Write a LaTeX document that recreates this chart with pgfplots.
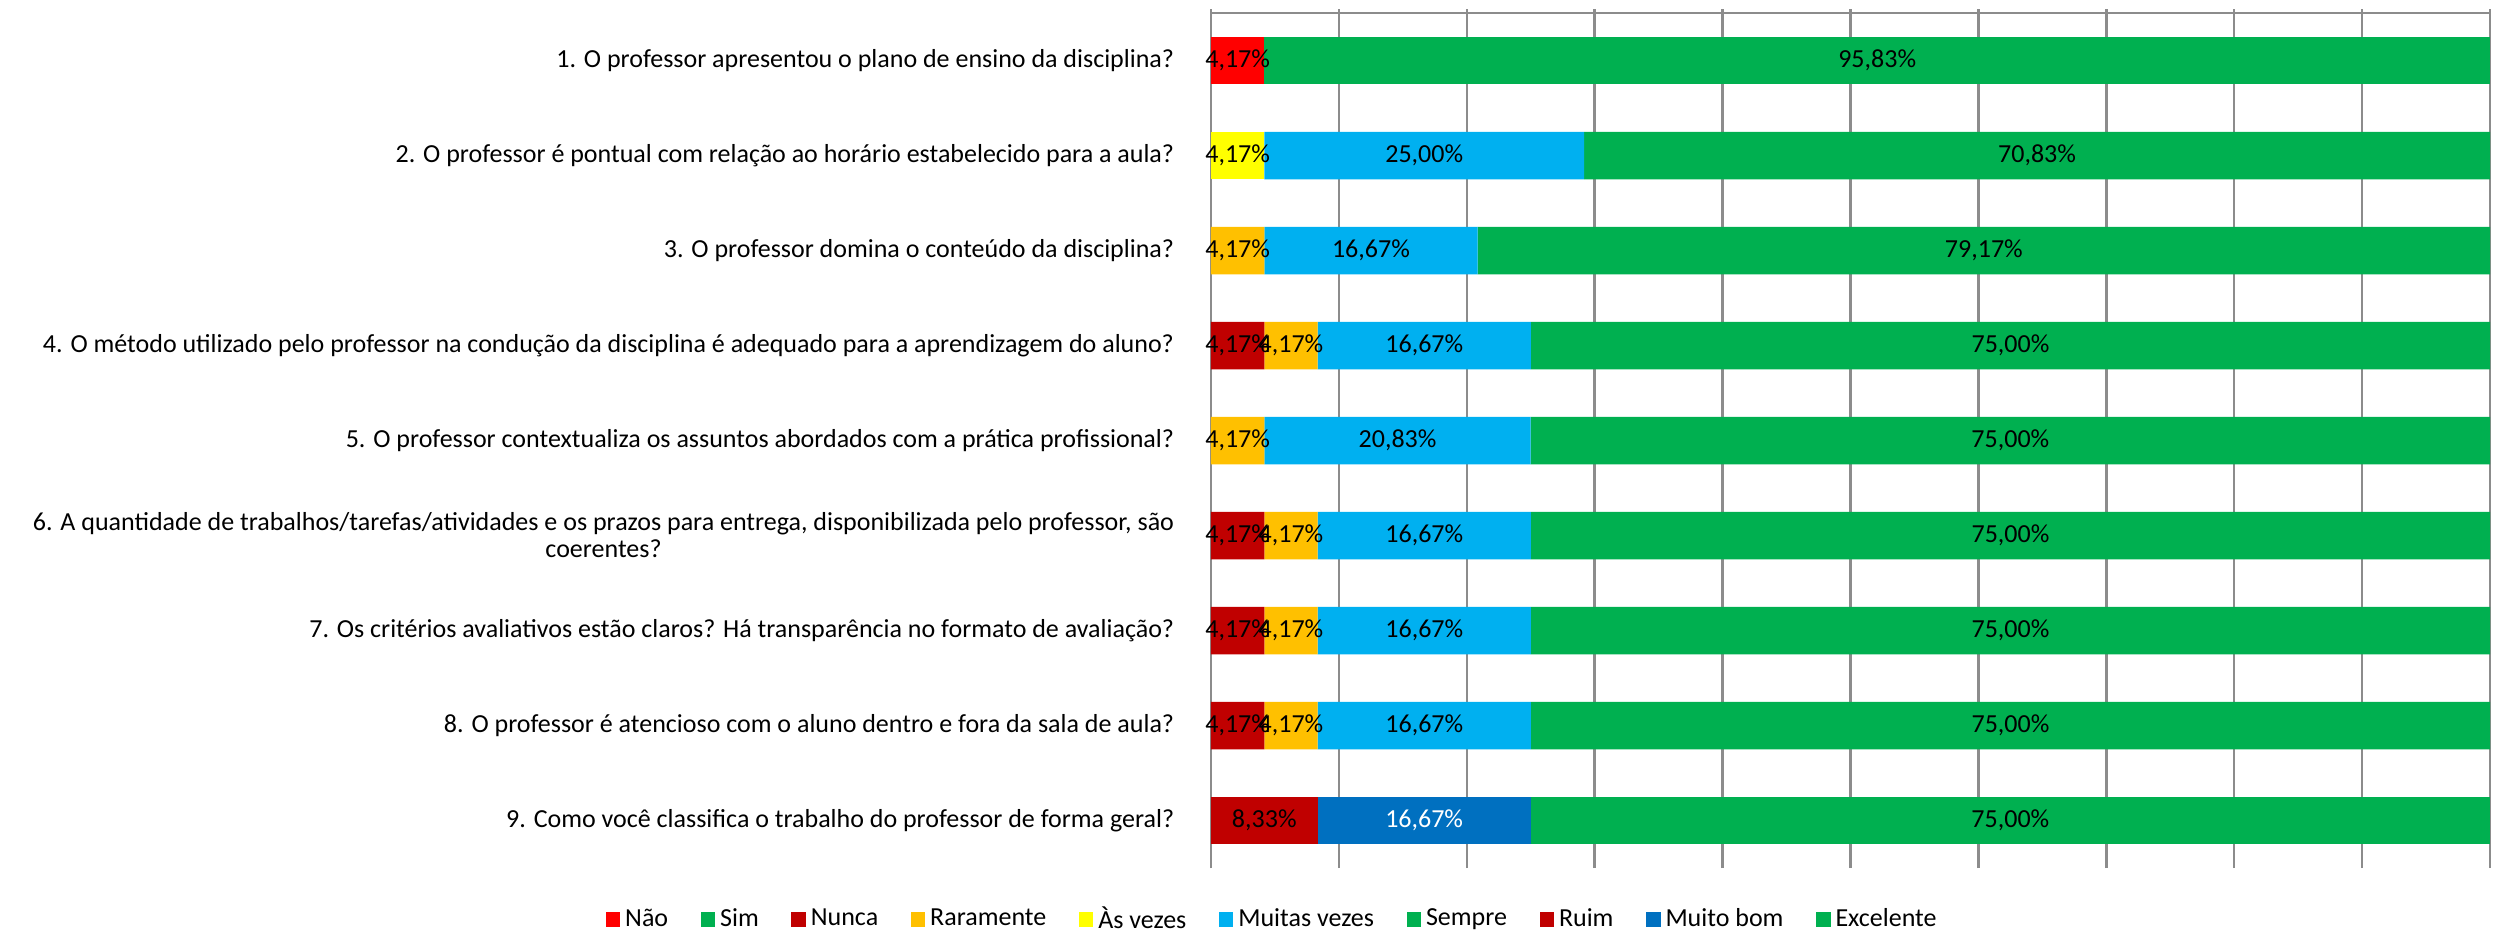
\documentclass[border=0pt]{standalone}
\usepackage{pgfplots}
\pgfplotsset{compat=1.18}
\usepackage{pgfplotstable}
\usepackage{fontspec}
\setmainfont{Carlito}
\definecolor{cNao}{HTML}{FF0000}
\definecolor{cGreen}{HTML}{00B050}
\definecolor{cDkRed}{HTML}{C00000}
\definecolor{cOrange}{HTML}{FFC000}
\definecolor{cYellow}{HTML}{FFFF00}
\definecolor{cCyan}{HTML}{00B0F0}
\definecolor{cBlue}{HTML}{0070C0}
\definecolor{cGrid}{HTML}{8C8C8C}
\newcommand{\lblfont}{\fontsize{10.4pt}{10.8pt}\selectfont}
\pgfplotstableread{
q nao sim nunca rara asvezes muitas sempre ruim muitobom excelente
9 4.17 95.83 0 0 0 0 0 0 0 0
8 0 0 0 0 4.17 25.00 70.83 0 0 0
7 0 0 0 4.17 0 16.67 79.17 0 0 0
6 0 0 4.17 4.17 0 16.67 75.00 0 0 0
5 0 0 0 4.17 0 20.83 75.00 0 0 0
4 0 0 4.17 4.17 0 16.67 75.00 0 0 0
3 0 0 4.17 4.17 0 16.67 75.00 0 0 0
2 0 0 4.17 4.17 0 16.67 75.00 0 0 0
1 0 0 0 0 0 0 0 8.33 16.67 75.00
}\data
\pgfplotsset{
  lab/.style 2 args={
    only marks, mark=none,
    visualization depends on={\thisrow{#1}\as\rawx},
    nodes near coords={\ifdim\rawx pt>0.01pt\pgfmathprintnumber[fixed,fixed zerofill,precision=2,use comma,assume math mode=true]{\rawx}\%\fi},
    every node near coord/.style={anchor=center, font=\lblfont, text=#2, inner sep=0pt},
  },
  frame/.style={
    scale only axis,
    width=511.6pt, height=342pt,
    xmin=0, xmax=100,
    ymin=0.5, ymax=9.5,
    enlargelimits=false,
  }
}
\begin{document}
\begin{tikzpicture}
\begin{axis}[
  frame,
  xbar stacked,
  bar width=19pt,
  axis x line*=top,
  axis y line*=left,
  axis line style={-, draw=cGrid, line width=1pt},
  xtick={0,10,...,100},
  xticklabels={},
  xmajorgrids,
  grid style={draw=cGrid, line width=1pt},
  ytick={1,...,9},
  yticklabels={
    {9. Como você classifica o trabalho do professor de forma geral?},
    {8. O professor é atencioso com o aluno dentro e fora da sala de aula?},
    {7. Os critérios avaliativos estão claros? Há transparência no formato de avaliação?},
    {6. A quantidade de trabalhos/tarefas/atividades e os prazos para entrega, disponibilizada pelo professor, são\\coerentes?},
    {5. O professor contextualiza os assuntos abordados com a prática profissional?},
    {4. O método utilizado pelo professor na condução da disciplina é adequado para a aprendizagem do aluno?},
    {3. O professor domina o conteúdo da disciplina?},
    {2. O professor é pontual com relação ao horário estabelecido para a aula?},
    {1. O professor apresentou o plano de ensino da disciplina?}
  },
  minor ytick={0.5,1.5,...,9.5},
  tick align=outside,
  major tick length=1.5pt,
  ytick style={draw=none},
  minor tick length=2pt,
  every minor tick/.style={draw=cGrid, line width=1pt},
  xtick style={draw=cGrid, line width=1pt},
  yticklabel style={font=\lblfont, align=center, xshift=-9.7pt, text=black},
  legend columns=10,
  legend style={at={(0.049,-0.06)}, anchor=center, draw=none, fill=none, font=\lblfont,
    /tikz/every even column/.append style={column sep=11pt},
    /tikz/every odd column/.append style={column sep=0pt}},
  legend image code/.code={\fill[#1] (0pt,-2.9pt) rectangle (5.8pt,2.9pt);},
]
\addplot[fill=cNao, draw=none] table[x=nao, y=q] {\data};
\addplot[fill=cGreen, draw=none] table[x=sim, y=q] {\data};
\addplot[fill=cDkRed, draw=none] table[x=nunca, y=q] {\data};
\addplot[fill=cOrange, draw=none] table[x=rara, y=q] {\data};
\addplot[fill=cYellow, draw=none] table[x=asvezes, y=q] {\data};
\addplot[fill=cCyan, draw=none] table[x=muitas, y=q] {\data};
\addplot[fill=cGreen, draw=none] table[x=sempre, y=q] {\data};
\addplot[fill=cDkRed, draw=none] table[x=ruim, y=q] {\data};
\addplot[fill=cBlue, draw=none] table[x=muitobom, y=q] {\data};
\addplot[fill=cGreen, draw=none] table[x=excelente, y=q] {\data};
\legend{Não,Sim,Nunca,Raramente,Às vezes,Muitas vezes,Sempre,Ruim,Muito bom,Excelente}
\end{axis}
% overlay axis (same frame, not stacked) for the data labels at segment centres
\begin{axis}[frame, hide axis, clip=false]
\addplot[lab={nao}{black}] table[y=q, x expr={\thisrow{nao}/2}] {\data};
\addplot[lab={sim}{black}] table[y=q, x expr={\thisrow{nao}+\thisrow{sim}/2}] {\data};
\addplot[lab={nunca}{black}] table[y=q, x expr={\thisrow{nao}+\thisrow{sim}+\thisrow{nunca}/2}] {\data};
\addplot[lab={rara}{black}] table[y=q, x expr={\thisrow{nao}+\thisrow{sim}+\thisrow{nunca}+\thisrow{rara}/2}] {\data};
\addplot[lab={asvezes}{black}] table[y=q, x expr={\thisrow{nao}+\thisrow{sim}+\thisrow{nunca}+\thisrow{rara}+\thisrow{asvezes}/2}] {\data};
\addplot[lab={muitas}{black}] table[y=q, x expr={\thisrow{nao}+\thisrow{sim}+\thisrow{nunca}+\thisrow{rara}+\thisrow{asvezes}+\thisrow{muitas}/2}] {\data};
\addplot[lab={sempre}{black}] table[y=q, x expr={\thisrow{nao}+\thisrow{sim}+\thisrow{nunca}+\thisrow{rara}+\thisrow{asvezes}+\thisrow{muitas}+\thisrow{sempre}/2}] {\data};
\addplot[lab={ruim}{black}] table[y=q, x expr={\thisrow{nao}+\thisrow{sim}+\thisrow{nunca}+\thisrow{rara}+\thisrow{asvezes}+\thisrow{muitas}+\thisrow{sempre}+\thisrow{ruim}/2}] {\data};
\addplot[lab={muitobom}{white}] table[y=q, x expr={\thisrow{nao}+\thisrow{sim}+\thisrow{nunca}+\thisrow{rara}+\thisrow{asvezes}+\thisrow{muitas}+\thisrow{sempre}+\thisrow{ruim}+\thisrow{muitobom}/2}] {\data};
\addplot[lab={excelente}{black}] table[y=q, x expr={\thisrow{nao}+\thisrow{sim}+\thisrow{nunca}+\thisrow{rara}+\thisrow{asvezes}+\thisrow{muitas}+\thisrow{sempre}+\thisrow{ruim}+\thisrow{muitobom}+\thisrow{excelente}/2}] {\data};
\end{axis}
\pgfresetboundingbox
\path[use as bounding box] (-484.4pt,-26pt) rectangle (512.8pt,347.2pt);
\end{tikzpicture}
\end{document}
